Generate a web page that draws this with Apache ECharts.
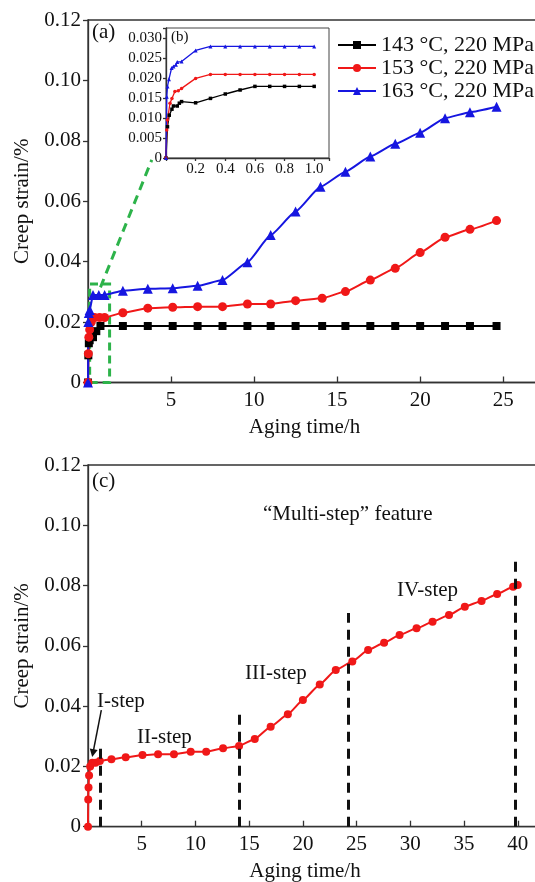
<!DOCTYPE html>
<html><head><meta charset="utf-8">
<script src="https://cdn.jsdelivr.net/npm/echarts@6/dist/echarts.min.js"></script>
<style>html,body{margin:0;padding:0;background:#fff}#c{width:535px;height:882px}</style>
</head><body><div id="c"></div>
<script>
// ---------- data ----------
const seriesNames = ['143 °C, 220 MPa', '153 °C, 220 MPa', '163 °C, 220 MPa'];
const xTicksMain = [5, 10, 15, 20, 25];
const xTicksC = [5, 10, 15, 20, 25, 30, 35, 40];

// (a) main chart: [time h, creep strain %]
const mainBlack = [[0,0],[0.02,0.009],[0.05,0.013],[0.1,0.014],[0.3,0.015],[0.5,0.017],[0.75,0.0187],[2.1,0.0187],[3.6,0.0187],[5.1,0.0187],[6.6,0.0187],[8.1,0.0187],[9.6,0.0187],[11.0,0.0187],[12.5,0.0187],[14.1,0.0187],[15.5,0.0187],[17.0,0.0187],[18.5,0.0187],[20.0,0.0187],[21.5,0.0187],[23.0,0.0187],[24.6,0.0187]];
const mainRed = [[0,0],[0.02,0.0095],[0.05,0.015],[0.1,0.0175],[0.2,0.02],[0.4,0.0215],[0.7,0.0215],[1.0,0.0215],[2.1,0.0231],[3.6,0.0246],[5.1,0.0249],[6.6,0.0251],[8.1,0.0251],[9.6,0.026],[11.0,0.026],[12.5,0.0271],[14.1,0.0279],[15.5,0.0301],[17.0,0.0339],[18.5,0.0378],[20.0,0.043],[21.5,0.0481],[23.0,0.0507],[24.6,0.0536]];
const mainBlue = [[0,0],[0.02,0.02],[0.05,0.023],[0.1,0.024],[0.3,0.029],[0.65,0.029],[1.0,0.029],[2.1,0.0304],[3.6,0.031],[5.1,0.0312],[6.6,0.032],[8.1,0.0339],[9.6,0.0398],[11.0,0.0488],[12.5,0.0566],[14.0,0.0648],[15.5,0.0698],[17.0,0.0748],[18.5,0.079],[20.0,0.0827],[21.5,0.0875],[23.0,0.0895],[24.6,0.0913]];

// (b) inset, first hour
const insetBlack = [[0,0],[0.01,0.0078],[0.022,0.0107],[0.04,0.0122],[0.05,0.013],[0.076,0.013],[0.09,0.0137],[0.105,0.0141],[0.2,0.0138],[0.3,0.0149],[0.4,0.016],[0.5,0.017],[0.6,0.0179],[0.7,0.0179],[0.8,0.0179],[0.9,0.0179],[1.0,0.0179]];
const insetRed = [[0,0],[0.005,0.007],[0.01,0.0095],[0.027,0.0137],[0.04,0.0149],[0.06,0.0166],[0.083,0.0168],[0.105,0.0174],[0.2,0.0199],[0.3,0.0209],[0.4,0.0209],[0.5,0.0209],[0.6,0.0209],[0.7,0.0209],[0.8,0.0209],[0.9,0.0209],[1.0,0.0209]];
const insetBlue = [[0,0],[0.005,0.0153],[0.01,0.0179],[0.02,0.0197],[0.038,0.0225],[0.05,0.0229],[0.067,0.0233],[0.076,0.024],[0.105,0.0241],[0.2,0.0269],[0.3,0.0279],[0.4,0.0279],[0.5,0.0279],[0.6,0.0279],[0.7,0.0279],[0.8,0.0279],[0.9,0.0279],[1.0,0.0279]];

// (c) multi-step curve (153 °C)
const stepRed = [[0,0],[0.02,0.009],[0.05,0.013],[0.1,0.017],[0.2,0.02],[0.4,0.0212],[0.7,0.0212],[1.1,0.0218],[2.18,0.0224],[3.51,0.023],[5.07,0.0238],[6.52,0.024],[8.0,0.024],[9.56,0.0249],[11.0,0.0249],[12.57,0.026],[14.06,0.0268],[15.52,0.0291],[17.0,0.0332],[18.6,0.0373],[20.0,0.042],[21.57,0.0472],[23.06,0.052],[24.6,0.0548],[26.07,0.0586],[27.56,0.061],[29.0,0.0636],[30.58,0.0658],[32.07,0.068],[33.6,0.0702],[35.07,0.073],[36.63,0.0749],[38.08,0.0772],[39.57,0.0796],[40.0,0.0802]];
const stepBounds = [[1.1,0.027],[14.06,0.0377],[24.2,0.0709],[39.75,0.0902]]; // [time, top of dashed line]
const stepLabels = ['I-step','II-step','III-step','IV-step'];
const zoomBox = [[0.1,0],[1.3,0.0326]];
const zoomArrow = [[0.75,0.0315],[3.84,0.0737]];
const iStepArrow = [[1.24,0.0387],[0.46,0.0244]];

// ---------- style ----------
const FONT = '"Liberation Serif","Times New Roman",serif';
const AX = '#333';
const TXT = '#111';
const BLACK = '#000', RED = '#f01818', BLUE = '#1616e0', GREEN = '#2db34a';

function xAx(grid, max, ticks, name, fs, tickInside, tickLen, margin, fmtDigits, namePadRight) {
  return {
    type: 'value', gridIndex: grid, min: 0, max: max, interval: (ticks[1] - ticks[0]),
    name: name, nameLocation: 'middle', nameGap: 34,
    nameTextStyle: {fontFamily: FONT, fontSize: 21, color: TXT, padding: [0, namePadRight || 0, 0, 0]},
    axisLine: {show: true, onZero: false, lineStyle: {color: AX, width: 1.3}},
    axisTick: {show: true, inside: tickInside, length: tickLen, lineStyle: {color: AX, width: 1.3}},
    axisLabel: {fontFamily: FONT, fontSize: fs, color: TXT, margin: margin, hideOverlap: false,
      formatter: v => ticks.some(t => Math.abs(t - v) < 1e-6) ? (fmtDigits ? v.toFixed(fmtDigits) : String(v)) : ''},
    splitLine: {show: false}
  };
}
function yAx(grid, max, step, digits, name, fs, tickLen, margin) {
  return {
    type: 'value', gridIndex: grid, min: 0, max: max, interval: step,
    name: name, nameLocation: 'middle', nameGap: 47,
    nameTextStyle: {fontFamily: FONT, fontSize: 21, color: TXT},
    axisLine: {show: true, onZero: false, lineStyle: {color: AX, width: 1.3}},
    axisTick: {show: true, inside: false, length: tickLen, lineStyle: {color: AX, width: 1.3}},
    axisLabel: {fontFamily: FONT, fontSize: fs, color: TXT, margin: margin, hideOverlap: false,
      formatter: v => {
        if (v === 0) return '0';
        const k = v / step;
        return Math.abs(k - Math.round(k)) < 1e-6 ? v.toFixed(digits) : '';
      }},
    splitLine: {show: false}
  };
}
function lineSeries(name, data, xi, yi, color, symbol, size, width, smooth, extra) {
  return Object.assign({
    type: 'line', name: name, data: data, xAxisIndex: xi, yAxisIndex: yi,
    symbol: symbol, symbolSize: size, showAllSymbol: true, smooth: smooth, smoothMonotone: 'x',
    lineStyle: {color: color, width: width}, itemStyle: {color: color},
    emphasis: {disabled: true}, silent: true, clip: false
  }, extra || {});
}

const gridBase = {show: true, containLabel: false, outerBoundsMode: 'none'};
const chart = echarts.init(document.getElementById('c'), null, {renderer: 'canvas'});
const option = {
  animation: false,
  backgroundColor: '#fff',
  grid: [
    Object.assign({left: 88, top: 20, width: 465, height: 362.5, borderColor: AX, borderWidth: 1.3, backgroundColor: 'transparent'}, gridBase),
    Object.assign({left: 166, top: 28, width: 163, height: 130, borderColor: '#444', borderWidth: 1, backgroundColor: '#fff', z: 5}, gridBase),
    Object.assign({left: 88, top: 465, width: 462, height: 361.7, borderColor: AX, borderWidth: 1.3, backgroundColor: 'transparent'}, gridBase)
  ],
  xAxis: [
    xAx(0, 28, xTicksMain, 'Aging time/h', 21, true, 6, 7, 0, 32),
    Object.assign(xAx(1, 1.1, [0.2,0.4,0.6,0.8,1.0], '', 15, false, 3, 4, 1, 0), {z: 6}),
    xAx(2, 43, xTicksC, 'Aging time/h', 21, true, 6, 7, 0, 28)
  ],
  yAxis: [
    yAx(0, 0.12, 0.02, 2, 'Creep strain/%', 21, 5, 7),
    Object.assign(yAx(1, 0.0325, 0.005, 3, '', 15, 3, 4), {z: 6}),
    yAx(2, 0.12, 0.02, 2, 'Creep strain/%', 21, 5, 7)
  ],
  legend: {
    orient: 'vertical', left: 332, top: 29, itemWidth: 38, itemHeight: 10, itemGap: 1,
    data: seriesNames, selectedMode: false,
    textStyle: {fontFamily: FONT, fontSize: 22, color: TXT}
  },
  series: [
    lineSeries(seriesNames[0], mainBlack, 0, 0, BLACK, 'rect', 8, 2, 0.15, {
      markArea: {silent: true, itemStyle: {color: 'rgba(0,0,0,0)', borderColor: GREEN, borderWidth: 3, borderType: [8,5]},
        data: [[{coord: zoomBox[0]}, {coord: zoomBox[1]}]]},
      markLine: {silent: true, symbol: ['none','triangle'], symbolSize: [0, 12], label: {show: false},
        lineStyle: {color: GREEN, width: 3, type: [9,6]},
        data: [[{coord: zoomArrow[0]}, {coord: zoomArrow[1]}]]}
    }),
    lineSeries(seriesNames[1], mainRed, 0, 0, RED, 'circle', 9, 2, 0.15),
    lineSeries(seriesNames[2], mainBlue, 0, 0, BLUE, 'triangle', 10, 2, 0.15),
    lineSeries(seriesNames[0], insetBlack, 1, 1, BLACK, 'rect', 3.5, 1.3, false, {z: 7}),
    lineSeries(seriesNames[1], insetRed, 1, 1, RED, 'circle', 3.5, 1.3, false, {z: 7}),
    lineSeries(seriesNames[2], insetBlue, 1, 1, BLUE, 'triangle', 4, 1.3, false, {z: 7}),
    lineSeries('153 °C multi-step', stepRed, 2, 2, RED, 'circle', 8, 2, 0.15, {
      markLine: {silent: true, symbol: 'none', label: {show: false},
        data: stepBounds.map(b => [{coord: [b[0], 0], lineStyle: {color: '#111', width: 3, type: [10,7]}},
                                   {coord: [b[0], b[1]]}]).concat([
          [{coord: iStepArrow[0], symbol: 'none', lineStyle: {color: '#111', width: 1.5, type: 'solid'}},
           {coord: iStepArrow[1], symbol: 'triangle', symbolSize: 8}]
        ])}
    })
  ],
  graphic: [
    {type: 'text', left: 92, top: 22, style: {text: '(a)', font: '21px ' + FONT, fill: TXT}, z: 10},
    {type: 'text', left: 171, top: 30, style: {text: '(b)', font: '15px ' + FONT, fill: TXT}, z: 10},
    {type: 'text', left: 92, top: 471, style: {text: '(c)', font: '21px ' + FONT, fill: TXT}, z: 10},
    {type: 'text', left: 263, top: 504, style: {text: '\u201cMulti-step\u201d feature', font: '21px ' + FONT, fill: TXT}, z: 10},
    {type: 'text', left: 97, top: 691, style: {text: stepLabels[0], font: '21px ' + FONT, fill: TXT}, z: 10},
    {type: 'text', left: 137, top: 727, style: {text: stepLabels[1], font: '21px ' + FONT, fill: TXT}, z: 10},
    {type: 'text', left: 245, top: 663, style: {text: stepLabels[2], font: '21px ' + FONT, fill: TXT}, z: 10},
    {type: 'text', left: 397, top: 580, style: {text: stepLabels[3], font: '21px ' + FONT, fill: TXT}, z: 10}
  ]
};
chart.setOption(option);
</script></body></html>
